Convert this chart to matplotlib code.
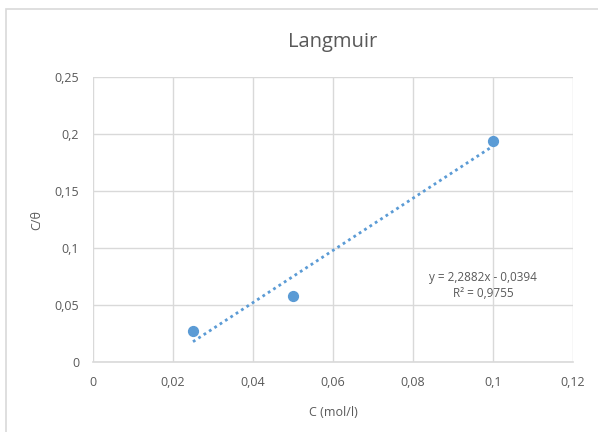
import numpy as np
import matplotlib.pyplot as plt
from matplotlib.patches import Rectangle
from matplotlib.ticker import FuncFormatter

# data
conc = [0.025, 0.05, 0.1]          # C (mol/l)
c_theta = [0.0272, 0.0575, 0.194]  # C/theta
slope = 2.2882
intercept = -0.0394
r2 = 0.9755

xticks = [0, 0.02, 0.04, 0.06, 0.08, 0.1, 0.12]
yticks = [0, 0.05, 0.1, 0.15, 0.2, 0.25]

blue = '#5B9BD5'
grey = '#595959'
gridc = '#D9D9D9'

plt.rcParams['font.family'] = ['Open Sans', 'DejaVu Sans']

fig = plt.figure(figsize=(5.98, 4.32), dpi=100)
# chart frame
fig.patches.append(Rectangle((6/598, -0.05), 1.2, 1 - 9/432 + 0.05,
                             transform=fig.transFigure, fill=False,
                             edgecolor=gridc, linewidth=1.2))

ax = fig.add_axes([93/598, 1 - 362/432, 480/598, 285/432])

def comma(v, pos):
    s = ('%.2f' % v).rstrip('0').rstrip('.')
    return s.replace('.', ',')

ax.set_xlim(0, 0.12)
ax.set_ylim(0, 0.25)
ax.set_xticks(xticks)
ax.set_yticks(yticks)
ax.xaxis.set_major_formatter(FuncFormatter(comma))
ax.yaxis.set_major_formatter(FuncFormatter(comma))
ax.grid(True, color=gridc, linewidth=1)
ax.set_axisbelow(True)
for side in ['top', 'right', 'left']:
    ax.spines[side].set_visible(False)
ax.spines['bottom'].set_color(gridc)
ax.spines['bottom'].set_linewidth(1.2)
ax.tick_params(length=0, labelsize=9, colors=grey, pad=10)

# trendline
xl = np.array([min(conc), max(conc)])
ax.plot(xl, slope * xl + intercept, linestyle=(0, (1, 1.3)), color=blue,
        linewidth=2, zorder=2)
ax.scatter(conc, c_theta, s=50, color=blue, zorder=3)

ax.text(0.0975, 0.0675, 'y = 2,2882x - 0,0394\nR² = 0,9755', ha='center',
        va='center', fontsize=8.5, color=grey, linespacing=1.3)

fig.text(333/598, 1 - 42/432, 'Langmuir', ha='center', va='center',
         fontsize=14.5, color=grey)
ax.set_xlabel('C (mol/l)', fontsize=9, color=grey, labelpad=12)
fig.text(37/598, 1 - 220/432, 'C/θ', rotation=90, ha='center', va='center',
         fontsize=9, color=grey)

fig.savefig('out.png', dpi=100)
